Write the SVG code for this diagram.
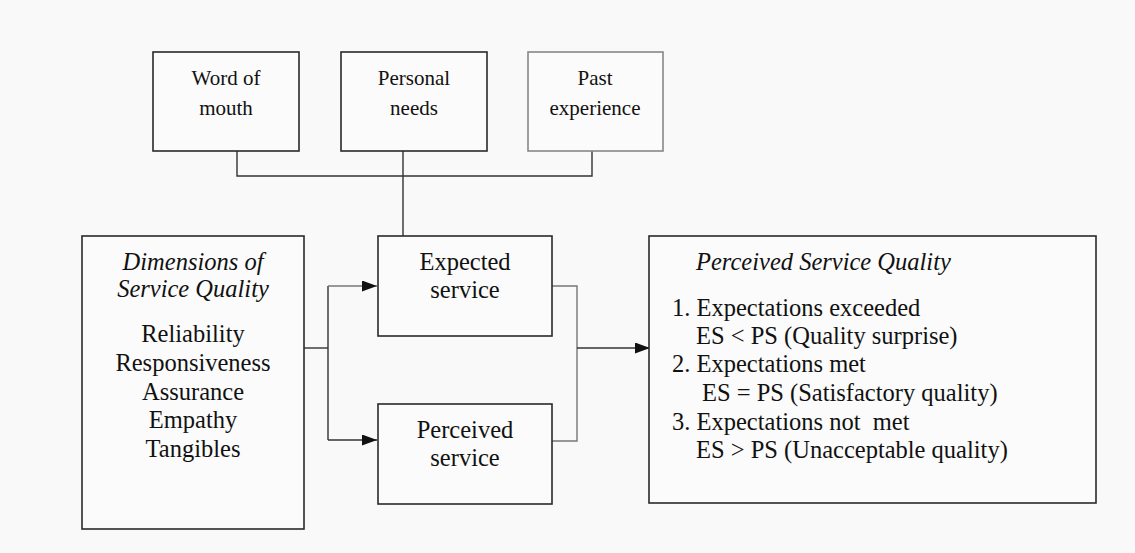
<svg xmlns="http://www.w3.org/2000/svg" width="1135" height="553" viewBox="0 0 1135 553">
<defs>
<marker id="arr" markerWidth="15" markerHeight="11" refX="15" refY="5.5" orient="auto" markerUnits="userSpaceOnUse">
<path d="M0,0 L15,5.5 L0,11 Z" fill="#111"/>
</marker>
<style>
.box{fill:#fbfbfb;stroke:#2a2a2a;stroke-width:1.6}
.ln{fill:none;stroke:#333;stroke-width:1.4}
.lg{fill:none;stroke:#777;stroke-width:1.4}
text{fill:#111}
.t21{font-size:21px;text-anchor:middle}
.t24{font-size:24.5px;text-anchor:middle}
.l24{font-size:24.5px}
.it{font-style:italic}
</style>
</defs>
<rect width="1135" height="553" fill="#f9f9f9"/>
<g id="connectors">
<polyline class="ln" points="237,151 237,176 592,176 592,151"/>
<line class="ln" x1="403" y1="151" x2="403" y2="236"/>
<polyline class="ln" points="304,348 328,348"/>
<line class="ln" x1="328" y1="286" x2="328" y2="440"/>
<line class="lg" x1="328" y1="286" x2="377" y2="286" marker-end="url(#arr)"/>
<line class="ln" x1="328" y1="440" x2="377" y2="440" marker-end="url(#arr)"/>
<polyline class="lg" points="552,286 577,286 577,441 552,441"/>
<line class="ln" x1="577" y1="348" x2="650" y2="348" marker-end="url(#arr)"/>
</g>
<g font-family="'Liberation Serif', 'Times New Roman', 'DejaVu Serif', serif">
<g id="word-of-mouth">
<rect class="box" x="153" y="52" width="146" height="99"/>
<text class="t21" x="226" y="85">Word of</text>
<text class="t21" x="226" y="115">mouth</text>
</g>
<g id="personal-needs">
<rect class="box" x="341" y="52" width="146" height="99"/>
<text class="t21" x="414" y="85">Personal</text>
<text class="t21" x="414" y="115">needs</text>
</g>
<g id="past-experience">
<rect class="box" x="528" y="52" width="135" height="99" style="stroke:#888"/>
<text class="t21" x="595" y="85">Past</text>
<text class="t21" x="595" y="115">experience</text>
</g>
<g id="dimensions">
<rect class="box" x="82" y="236" width="222" height="293"/>
<text class="t24 it" x="193" y="270">Dimensions of</text>
<text class="t24 it" x="193" y="297">Service Quality</text>
<text class="t24" x="193" y="342">Reliability</text>
<text class="t24" x="193" y="371">Responsiveness</text>
<text class="t24" x="193" y="400">Assurance</text>
<text class="t24" x="193" y="428">Empathy</text>
<text class="t24" x="193" y="457">Tangibles</text>
</g>
<g id="expected-service">
<rect class="box" x="378" y="236" width="174" height="100"/>
<text class="t24" x="465" y="270">Expected</text>
<text class="t24" x="465" y="298">service</text>
</g>
<g id="perceived-service">
<rect class="box" x="378" y="404" width="174" height="100"/>
<text class="t24" x="465" y="438">Perceived</text>
<text class="t24" x="465" y="466">service</text>
</g>
<g id="perceived-service-quality">
<rect class="box" x="649" y="236" width="447" height="267"/>
<text class="l24 it" x="696" y="270">Perceived Service Quality</text>
<text class="l24" x="672" y="316">1. Expectations exceeded</text>
<text class="l24" x="696" y="344">ES &lt; PS (Quality surprise)</text>
<text class="l24" x="672" y="372">2. Expectations met</text>
<text class="l24" x="702" y="401">ES = PS (Satisfactory quality)</text>
<text class="l24" x="672" y="430" xml:space="preserve">3. Expectations not  met</text>
<text class="l24" x="696" y="458">ES &gt; PS (Unacceptable quality)</text>
</g>
</g>
</svg>
